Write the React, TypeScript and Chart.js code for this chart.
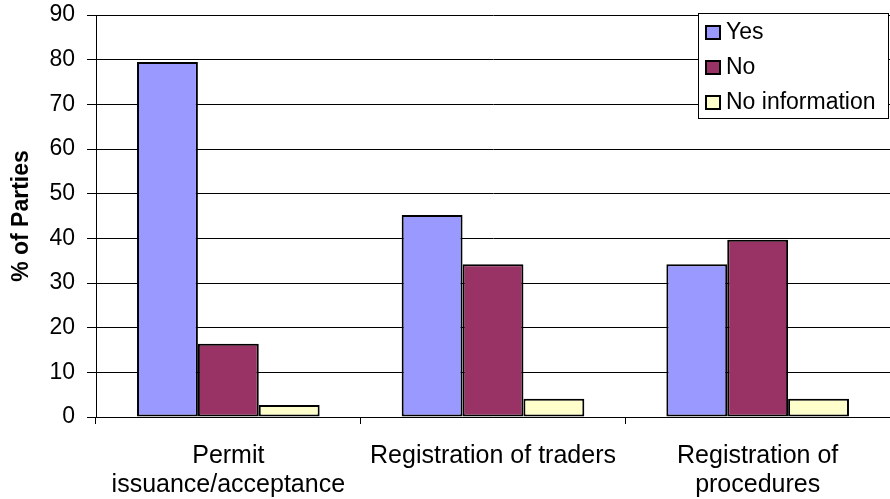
import React, { useEffect, useRef } from "react";
import { Chart, registerables } from "chart.js";

Chart.register(...registerables);

const categories: (string | string[])[] = [
  ["Permit", "issuance/acceptance"],
  "Registration of traders",
  ["Registration of", "procedures"],
];
const yesValues = [79.5, 45.2, 34.2];
const noValues = [16.4, 34.2, 39.7];
const noInfoValues = [2.7, 4.1, 4.1];
const seriesNames = ["Yes", "No", "No information"];
const seriesColors = ["#9999FF", "#993366", "#FFFFCC"];

const FONT = "Arial, 'Liberation Sans', sans-serif";

const legendPlugin = {
  id: "boxLegend",
  afterDraw(chart: any) {
    const ctx = chart.ctx;
    const x = 698, y = 13, w = 190, h = 105;
    ctx.save();
    ctx.fillStyle = "#fff";
    ctx.fillRect(x, y, w, h);
    ctx.strokeStyle = "#000";
    ctx.lineWidth = 1;
    ctx.strokeRect(x + 0.5, y + 0.5, w, h);
    ctx.font = `23px ${FONT}`;
    ctx.textBaseline = "middle";
    const rows = [32.5, 67.5, 102.5];
    seriesNames.forEach((name, i) => {
      const cy = rows[i];
      ctx.fillStyle = seriesColors[i];
      ctx.fillRect(706, cy - 6.5, 14, 13);
      ctx.strokeStyle = "#000";
      ctx.lineWidth = 2;
      ctx.strokeRect(706, cy - 6.5, 14, 13);
      ctx.fillStyle = "#000";
      ctx.fillText(name, 726, cy);
    });
    ctx.restore();
  },
};

export default function App() {
  const ref = useRef<HTMLCanvasElement>(null);
  useEffect(() => {
    if (!ref.current) return;
    const chart = new Chart(ref.current, {
      type: "bar",
      data: {
        labels: categories as any,
        datasets: [yesValues, noValues, noInfoValues].map((d, i) => ({
          label: seriesNames[i],
          data: d,
          backgroundColor: seriesColors[i],
          borderColor: "#000",
          borderWidth: 2,
          borderSkipped: false,
          categoryPercentage: 0.69,
          barPercentage: 1,
        })),
      },
      options: {
        animation: false,
        responsive: false,
        maintainAspectRatio: false,
        layout: { padding: { top: 15, right: 0, left: 0, bottom: 0 } },
        plugins: { legend: { display: false }, tooltip: { enabled: false } },
        scales: {
          x: {
            offset: true,
            grid: {
              offset: true,
              drawOnChartArea: false,
              color: "#000",
              tickLength: 7,
            },
            border: { color: "#000", width: 1 },
            ticks: {
              color: "#000",
              font: { family: FONT, size: 25, lineHeight: 1.16 },
              padding: 18,
              maxRotation: 0,
              autoSkip: false,
            },
            afterFit(scale: any) {
              scale.height = 82;
              scale.paddingLeft = 0;
              scale.paddingRight = 0;
            },
          },
          y: {
            min: 0,
            max: 90,
            ticks: {
              stepSize: 10,
              color: "#000",
              font: { family: FONT, size: 23 },
              padding: 12,
            },
            grid: { color: "#000", tickLength: 9 },
            border: { color: "#000", width: 1 },
            title: {
              display: true,
              text: "% of Parties",
              color: "#000",
              font: { family: FONT, size: 23, weight: "bold" },
              padding: { top: 8, bottom: 0 },
            },
            afterFit(scale: any) {
              scale.width = 96;
              scale.paddingTop = 0;
              scale.paddingBottom = 0;
            },
          },
        },
      },
      plugins: [legendPlugin],
    });
    return () => chart.destroy();
  }, []);
  return (
    <div style={{ position: "fixed", left: 0, top: 0, width: 890, height: 499, background: "#fff" }}>
      <canvas ref={ref} width={890} height={499} style={{ width: 890, height: 499 }} />
    </div>
  );
}
